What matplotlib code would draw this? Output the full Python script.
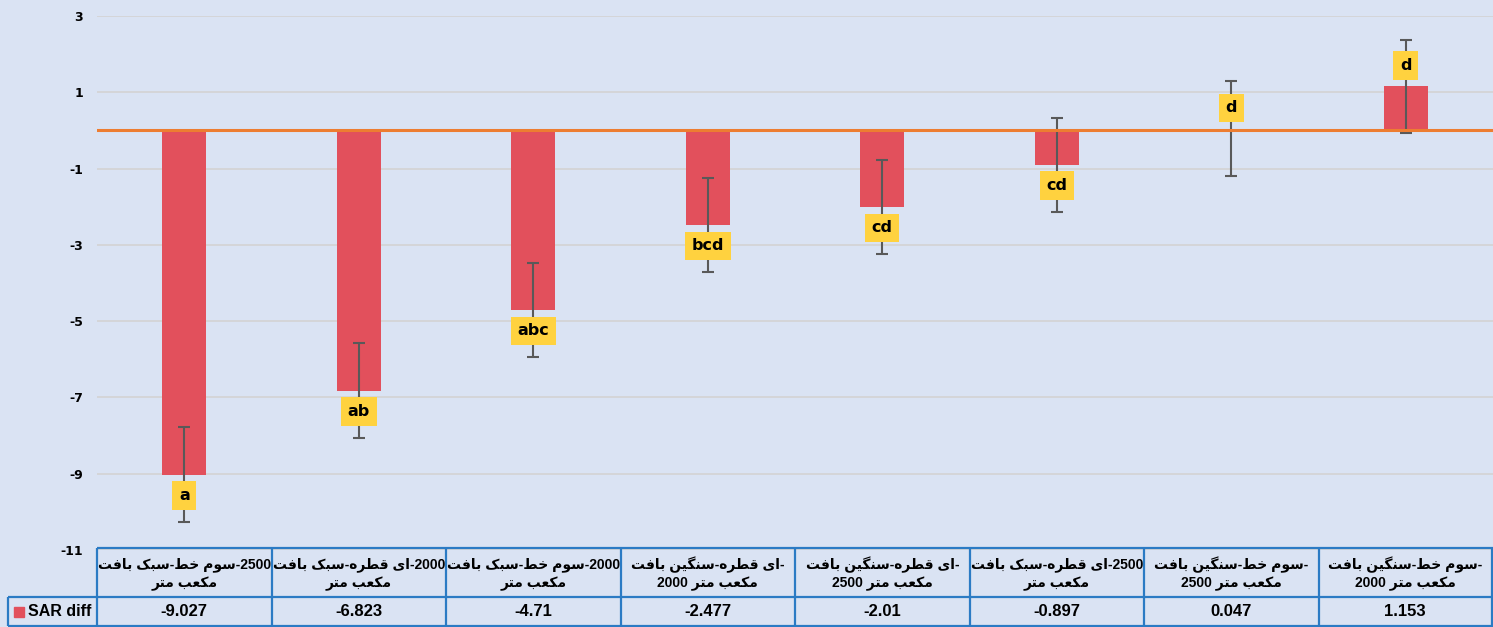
import re
import numpy as np
import matplotlib
matplotlib.use('Agg')
import matplotlib.pyplot as plt

# category labels, two lines each (as wrapped in the table header)
label_line1 = ['بافت سبک-خط سوم-2500', 'بافت سبک-قطره ای-2000', 'بافت سبک-خط سوم-2000',
               'بافت سنگین-قطره ای-', 'بافت سنگین-قطره ای-', 'بافت سبک-قطره ای-2500',
               'بافت سنگین-خط سوم-', 'بافت سنگین-خط سوم-']
label_line2 = ['متر مکعب', 'متر مکعب', 'متر مکعب',
               '2000 متر مکعب', '2500 متر مکعب', 'متر مکعب',
               '2500 متر مکعب', '2000 متر مکعب']
sar_diff = [-9.027, -6.823, -4.71, -2.477, -2.01, -0.897, 0.047, 1.153]
sar_err = [1.24, 1.25, 1.24, 1.24, 1.24, 1.23, 1.24, 1.23]
groups = ['a', 'ab', 'abc', 'bcd', 'cd', 'cd', 'd', 'd']
yticks = [3, 1, -1, -3, -5, -7, -9, -11]
series_name = 'SAR diff'

BG = '#DAE3F3'
BAR = '#E2505C'
ORANGE = '#ED7D31'
TBL = '#2B7BC4'

# isolated, final, initial, medial
FORMS = {
    'ا': ('\uFE8D', '\uFE8E', None, None),
    'ب': ('\uFE8F', '\uFE90', '\uFE91', '\uFE92'),
    'ت': ('\uFE95', '\uFE96', '\uFE97', '\uFE98'),
    'خ': ('\uFEA5', '\uFEA6', '\uFEA7', '\uFEA8'),
    'ر': ('\uFEAD', '\uFEAE', None, None),
    'س': ('\uFEB1', '\uFEB2', '\uFEB3', '\uFEB4'),
    'ط': ('\uFEC1', '\uFEC2', '\uFEC3', '\uFEC4'),
    'ع': ('\uFEC9', '\uFECA', '\uFECB', '\uFECC'),
    'ف': ('\uFED1', '\uFED2', '\uFED3', '\uFED4'),
    'ق': ('\uFED5', '\uFED6', '\uFED7', '\uFED8'),
    'م': ('\uFEE1', '\uFEE2', '\uFEE3', '\uFEE4'),
    'ن': ('\uFEE5', '\uFEE6', '\uFEE7', '\uFEE8'),
    'ه': ('\uFEE9', '\uFEEA', '\uFEEB', '\uFEEC'),
    'و': ('\uFEED', '\uFEEE', None, None),
    'ک': ('\uFB8E', '\uFB8F', '\uFB90', '\uFB91'),
    'گ': ('\uFB92', '\uFB93', '\uFB94', '\uFB95'),
    'ی': ('\uFBFC', '\uFBFD', '\uFBFE', '\uFBFF'),
}


def shape_word(w):
    out = []
    for i, c in enumerate(w):
        f = FORMS.get(c)
        if f is None:
            out.append(c)
            continue
        prev = w[i - 1] if i > 0 else None
        nxt = w[i + 1] if i < len(w) - 1 else None
        jp = prev in FORMS and FORMS[prev][2] is not None
        jn = f[2] is not None and nxt in FORMS
        if jp and jn:
            out.append(f[3])
        elif jp:
            out.append(f[1])
        elif jn:
            out.append(f[2])
        else:
            out.append(f[0])
    return ''.join(reversed(out))


def visual(s):
    # word order kept left-to-right as in the source chart, letters shaped right-to-left
    return re.sub(r'[\u0600-\u06FF]+', lambda m: shape_word(m.group(0)), s)


W, H = 1493, 627
fig = plt.figure(figsize=(W / 100, H / 100), dpi=100, facecolor=BG)
ax = fig.add_axes([97 / W, 77 / H, (W - 97) / W, (550 - 16) / H])
ax.set_facecolor(BG)

x = np.arange(len(sar_diff))
ax.bar(x, sar_diff, width=0.25, color=BAR, zorder=2)
ax.errorbar(x, sar_diff, yerr=sar_err, fmt='none', ecolor='#595959',
            elinewidth=1.5, capsize=4.5, capthick=1.5, zorder=3)
ax.axhline(0, color=ORANGE, lw=2.2, zorder=3.5)

for xi, v, g in zip(x, sar_diff, groups):
    off = -15 if v < 0 else 15
    ax.annotate(g, (xi, v), xytext=(0, off), textcoords='offset points',
                ha='center', va='center', fontsize=11.5, fontweight='bold',
                bbox=dict(boxstyle='square,pad=0.42', fc='#FFD23F', ec='none'),
                zorder=4)

ax.set_xlim(-0.5, len(sar_diff) - 0.5)
ax.set_ylim(min(yticks), max(yticks))
ax.set_yticks(yticks)
ax.set_yticklabels([str(t) for t in yticks], fontsize=9, fontweight='bold')
ax.tick_params(axis='y', length=0, pad=10)
ax.set_xticks([])
ax.yaxis.grid(True, color='#D3D3D3', lw=1.2)
ax.set_axisbelow(True)
for s in ax.spines.values():
    s.set_visible(False)

# data table below the plot, in pixel coordinates
tax = fig.add_axes([0, 0, 1, 1])
tax.set_xlim(0, W)
tax.set_ylim(0, H)
tax.axis('off')
tax.patch.set_alpha(0)

edges = [ax.transData.transform((i - 0.5, 0))[0] for i in range(len(sar_diff) + 1)]
edges[-1] = W - 1
top, mid, bot = 79, 30, 1
kw = dict(color=TBL, lw=1.6, solid_capstyle='butt')
tax.plot([edges[0], W], [top, top], **kw)
tax.plot([8, W], [mid, mid], **kw)
tax.plot([8, W], [bot, bot], **kw)
tax.plot([8, 8], [bot, mid], **kw)
for e in edges:
    tax.plot([e, e], [bot, top], **kw)

fam = ['Liberation Sans', 'DejaVu Sans']
for i in range(len(sar_diff)):
    cx = (edges[i] + edges[i + 1]) / 2
    tax.text(cx, 62, visual(label_line1[i]), ha='center', va='center',
             fontsize=10, fontweight='bold', family=fam)
    tax.text(cx, 43, visual(label_line2[i]), ha='center', va='center',
             fontsize=10, fontweight='bold', family=fam)
    tax.text(cx, 15, str(sar_diff[i]), ha='center', va='center',
             fontsize=12, fontweight='bold', family=fam)

tax.plot([19], [15], marker='s', ms=7, color=BAR, ls='none')
tax.text(28, 15, series_name, ha='left', va='center', fontsize=11.5,
         fontweight='bold', family=fam)

fig.savefig('out.png', dpi=100, facecolor=BG)
